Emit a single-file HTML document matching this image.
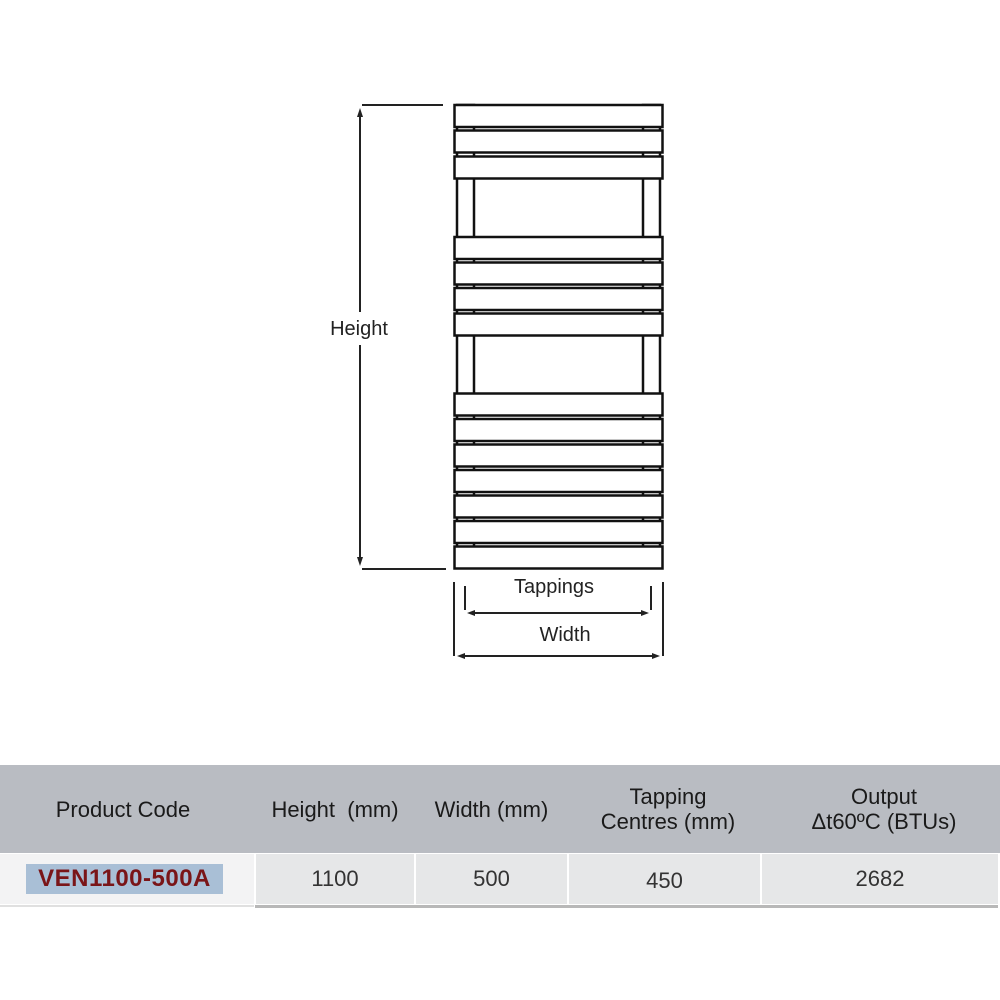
<!DOCTYPE html>
<html><head><meta charset="utf-8"><style>
body{margin:0;width:1000px;height:1000px;background:#fff;position:relative;overflow:hidden;font-family:"Liberation Sans",sans-serif}
.a{position:absolute}
.hdr{top:765px;left:0;width:1000px;height:88px;background:#b9bcc2}
.h{position:absolute;top:765px;height:88px;display:flex;align-items:center;justify-content:center;text-align:center;font-size:22px;color:#1a1a1a;line-height:25px}
.c{position:absolute;top:854px;height:50px;display:flex;align-items:center;justify-content:center;font-size:22px;color:#333;background:#e6e7e8}
</style></head><body>
<svg class="a" style="left:0;top:0" width="1000" height="700">
<g fill="#fff" stroke="#111" stroke-width="2.5">
<rect x="457" y="105" width="17" height="462"/><rect x="643" y="105" width="17" height="462"/>
<rect x="454.5" y="105" width="208" height="22"/>
<rect x="454.5" y="130.5" width="208" height="22"/>
<rect x="454.5" y="156.5" width="208" height="22"/>
<rect x="454.5" y="237" width="208" height="22"/>
<rect x="454.5" y="262.5" width="208" height="22"/>
<rect x="454.5" y="288" width="208" height="22"/>
<rect x="454.5" y="313.5" width="208" height="22"/>
<rect x="454.5" y="393.5" width="208" height="22"/>
<rect x="454.5" y="419" width="208" height="22"/>
<rect x="454.5" y="444.5" width="208" height="22"/>
<rect x="454.5" y="470" width="208" height="22"/>
<rect x="454.5" y="495.5" width="208" height="22"/>
<rect x="454.5" y="521" width="208" height="22"/>
<rect x="454.5" y="546.5" width="208" height="22"/>
</g>
<g stroke="#222" stroke-width="2" fill="none">
<line x1="362" y1="105" x2="443" y2="105"/><line x1="362" y1="569" x2="446" y2="569"/>
<line x1="360" y1="113" x2="360" y2="312"/><line x1="360" y1="345" x2="360" y2="561"/>
<line x1="454" y1="582" x2="454" y2="656"/><line x1="663" y1="582" x2="663" y2="656"/>
<line x1="465" y1="586" x2="465" y2="610"/><line x1="651" y1="586" x2="651" y2="610"/>
<line x1="472" y1="613" x2="644" y2="613"/><line x1="462" y1="656" x2="656" y2="656"/>
</g>
<g fill="#222">
<polygon points="360,108 357,117 363,117"/><polygon points="360,566 357,557 363,557"/>
<polygon points="467,613 475,610 475,616"/><polygon points="649,613 641,610 641,616"/>
<polygon points="457,656 465,653 465,659"/><polygon points="660,656 652,653 652,659"/>
</g>
<g font-family="Liberation Sans, sans-serif" font-size="20" fill="#222" text-anchor="middle">
<text x="359" y="335">Height</text><text x="554" y="593">Tappings</text><text x="565" y="641">Width</text>
</g>
</svg>
<div class="a hdr"></div>
<div class="h" style="left:0;width:246px">Product Code</div>
<div class="h" style="left:255px;width:160px">Height&nbsp; (mm)</div>
<div class="h" style="left:415px;width:153px">Width (mm)</div>
<div class="h" style="left:568px;width:200px">Tapping<br>Centres (mm)</div>
<div class="h" style="left:761px;width:246px">Output<br>Δt60ºC (BTUs)</div>
<div class="c" style="left:0;width:254px;background:#f3f3f4;justify-content:flex-start"><span style="margin-left:26px;width:197px;text-align:center;background:#a9bfd6;color:#7a1518;font-weight:bold;font-size:24px;letter-spacing:0.5px;padding:1px 0">VEN1100-500A</span></div>
<div class="c" style="left:256px;width:158px">1100</div>
<div class="c" style="left:416px;width:151px">500</div>
<div class="c" style="left:569px;width:191px;padding-top:4px;box-sizing:border-box">450</div>
<div class="c" style="left:762px;width:236px">2682</div>
<div class="a" style="left:255px;top:905px;width:743px;height:3px;background:#b8b8b8"></div>
<div class="a" style="left:0;top:905px;width:254px;height:2px;background:#e0e0e0"></div>
</body></html>
